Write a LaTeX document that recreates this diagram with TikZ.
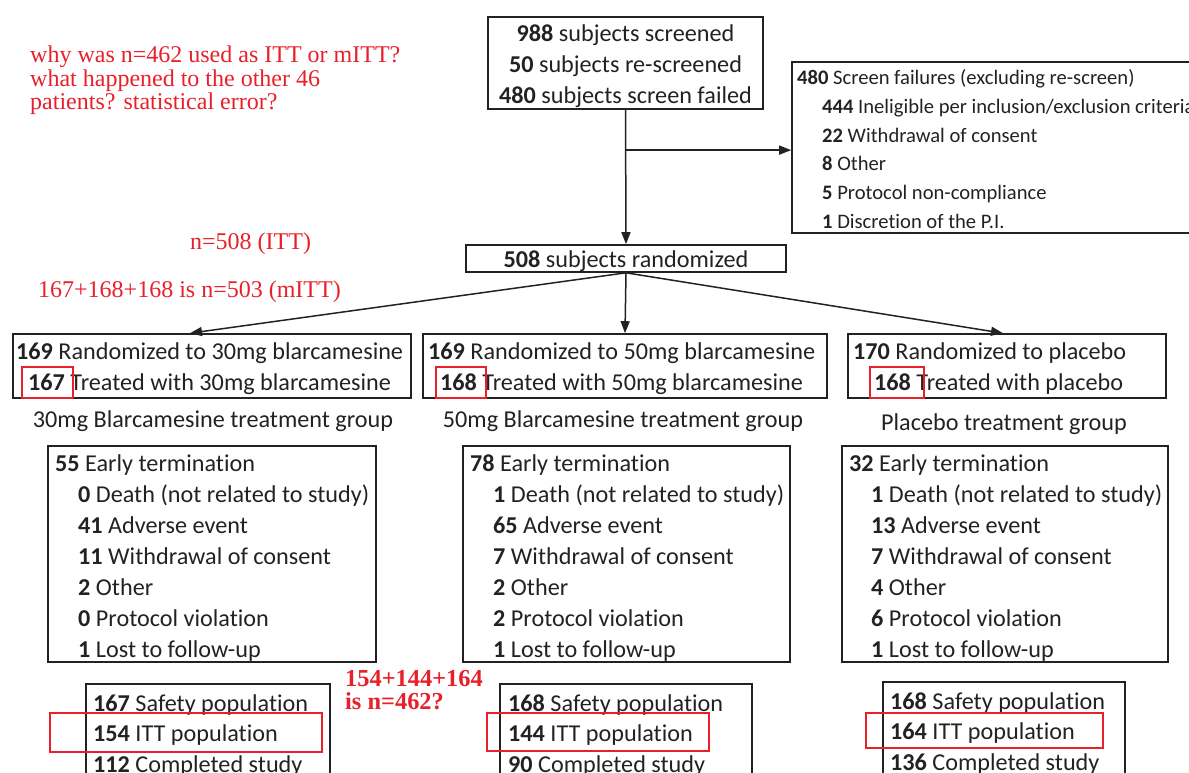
\documentclass[tikz,border=0pt]{standalone}
\usepackage{fontspec}
\setmainfont{Carlito}[Ligatures=NoCommon]
\newfontfamily\notefont{Liberation Serif}
\usetikzlibrary{arrows.meta,calc}
\definecolor{ink}{HTML}{222222}
\definecolor{note}{HTML}{E8202A}
\tikzset{
  box/.style={draw=ink, line width=1.6pt, inner sep=0pt},
  hl/.style={draw=note, line width=1.5pt, inner sep=0pt},
  txt/.style={anchor=base west, inner sep=0pt, text=ink, font=\fontsize{24.2}{28}\selectfont},
  ctxt/.style={anchor=base, inner sep=0pt, text=ink, font=\fontsize{24.2}{28}\selectfont},
  stxt/.style={anchor=base west, inner sep=0pt, text=ink, font=\fontsize{20.6}{24}\selectfont},
  ntxt/.style={anchor=base west, inner sep=0pt, text=note, font=\notefont\fontsize{24}{24}\selectfont},
  btxt/.style={anchor=base west, inner sep=0pt, text=note, font=\notefont\bfseries\fontsize{24.4}{24}\selectfont},
  arr/.style={draw=ink, line width=1.5pt, -{Triangle[length=12pt,width=9pt]}},
}
\begin{document}
\begin{tikzpicture}[x=1pt,y=-1pt]
\useasboundingbox (0,0) rectangle (1189,773);
% ---------- boxes ----------
\node[box, minimum width=275, minimum height=92] (top) at (625.5,63) {};
\node[box, minimum width=420, minimum height=171] (sf) at (1002,147.5) {};
\node[box, minimum width=320, minimum height=27] (rand) at (626,258.5) {};
\node[box, minimum width=398, minimum height=64] (g1) at (212,366) {};
\node[box, minimum width=404, minimum height=64] (g2) at (625,366) {};
\node[box, minimum width=318, minimum height=64] (g3) at (1007,366) {};
\node[box, minimum width=328, minimum height=216] (e1) at (212,554) {};
\node[box, minimum width=327, minimum height=216] (e2) at (626.5,554) {};
\node[box, minimum width=326, minimum height=216] (e3) at (1005,554) {};
\node[box, minimum width=244, minimum height=110] (b1) at (208,739) {};
\node[box, minimum width=252, minimum height=110] (b2) at (626,739) {};
\node[box, minimum width=242, minimum height=112] (b3) at (1004,738) {};
% ---------- top box text ----------
\node[ctxt] (t1) at (625.5,42) {\textbf{988} subjects screened};
\node[ctxt] (t2) at (625.5,73) {\textbf{50} subjects re-screened};
\node[ctxt] (t3) at (625.5,104) {\textbf{480} subjects screen failed};
% ---------- screen failures ----------
\node[stxt] (s1) at (797,85) {\textbf{480} Screen failures (excluding re-screen)};
\node[stxt] (s2) at (822,114) {\textbf{444} Ineligible per inclusion/exclusion criteria};
\node[stxt] (s3) at (822,143) {\textbf{22} Withdrawal of consent};
\node[stxt] (s4) at (822,171) {\textbf{8} Other};
\node[stxt] (s5) at (822,200) {\textbf{5} Protocol non-compliance};
\node[stxt] (s6) at (822,228) {\textbf{1} Discretion of the P.I.};
% ---------- randomized ----------
\node[ctxt] (r1) at (626,267) {\textbf{508} subjects randomized};
% ---------- group boxes ----------
\node[txt] (g1a) at (16,359) {\textbf{169} Randomized to 30mg blarcamesine};
\node[txt] (g1b) at (28,390) {\textbf{167} Treated with 30mg blarcamesine};
\node[txt] (g2a) at (428,359) {\textbf{169} Randomized to 50mg blarcamesine};
\node[txt] (g2b) at (440,390) {\textbf{168} Treated with 50mg blarcamesine};
\node[txt] (g3a) at (853,359) {\textbf{170} Randomized to placebo};
\node[txt] (g3b) at (874,390) {\textbf{168} Treated with placebo};
\node[hl, minimum width=51, minimum height=31] (h1) at (47.5,382.5) {};
\node[hl, minimum width=50, minimum height=31] (h2) at (461,382.5) {};
\node[hl, minimum width=54, minimum height=31] (h3) at (897,382.5) {};
% ---------- group labels ----------
\node[ctxt] (l1) at (213,427) {30mg Blarcamesine treatment group};
\node[ctxt] (l2) at (623,427) {50mg Blarcamesine treatment group};
\node[ctxt] (l3) at (1004,430) {Placebo treatment group};
% ---------- early termination ----------
\node[txt] (e1a) at (55,471) {\textbf{55} Early termination};
\node[txt] (e1b) at (78,502) {\textbf{0} Death (not related to study)};
\node[txt] (e1c) at (78,533) {\textbf{41} Adverse event};
\node[txt] (e1d) at (78,564) {\textbf{11} Withdrawal of consent};
\node[txt] (e1e) at (78,595) {\textbf{2} Other};
\node[txt] (e1f) at (78,626) {\textbf{0} Protocol violation};
\node[txt] (e1g) at (78,657) {\textbf{1} Lost to follow-up};
\node[txt] (e2a) at (470,471) {\textbf{78} Early termination};
\node[txt] (e2b) at (493,502) {\textbf{1} Death (not related to study)};
\node[txt] (e2c) at (493,533) {\textbf{65} Adverse event};
\node[txt] (e2d) at (493,564) {\textbf{7} Withdrawal of consent};
\node[txt] (e2e) at (493,595) {\textbf{2} Other};
\node[txt] (e2f) at (493,626) {\textbf{2} Protocol violation};
\node[txt] (e2g) at (493,657) {\textbf{1} Lost to follow-up};
\node[txt] (e3a) at (849,471) {\textbf{32} Early termination};
\node[txt] (e3b) at (871,502) {\textbf{1} Death (not related to study)};
\node[txt] (e3c) at (871,533) {\textbf{13} Adverse event};
\node[txt] (e3d) at (871,564) {\textbf{7} Withdrawal of consent};
\node[txt] (e3e) at (871,595) {\textbf{4} Other};
\node[txt] (e3f) at (871,626) {\textbf{6} Protocol violation};
\node[txt] (e3g) at (871,657) {\textbf{1} Lost to follow-up};
% ---------- bottom ----------
\node[txt] (b1a) at (93,711) {\textbf{167} Safety population};
\node[txt] (b1b) at (93,741) {\textbf{154} ITT population};
\node[txt] (b1c) at (93,772) {\textbf{112} Completed study};
\node[txt] (b2a) at (508,711) {\textbf{168} Safety population};
\node[txt] (b2b) at (508,741) {\textbf{144} ITT population};
\node[txt] (b2c) at (508,772) {\textbf{90} Completed study};
\node[txt] (b3a) at (890,709) {\textbf{168} Safety population};
\node[txt] (b3b) at (890,739) {\textbf{164} ITT population};
\node[txt] (b3c) at (890,770) {\textbf{136} Completed study};
\node[hl, minimum width=272, minimum height=39] (h4) at (186,732.5) {};
\node[hl, minimum width=222, minimum height=38] (h5) at (598,732) {};
\node[hl, minimum width=237, minimum height=35] (h6) at (984.5,730.5) {};
% ---------- notes ----------
\node[ntxt] (n1) at (30,63) {why was n=462 used as ITT or mITT?};
\node[ntxt] (n2) at (30,87) {what happened to the other 46};
\node[ntxt] (n3) at (30,110) {patients? statistical error?};
\node[ntxt] (n4) at (190,249) {n=508 (ITT)};
\node[ntxt] (n5) at (38,297) {167+168+168 is n=503 (mITT)};
\node[btxt] (n6) at (345,686) {154+144+164};
\node[btxt] (n7) at (345,709) {is n=462?};
% ---------- connectors ----------
\coordinate (br) at ($(top.south)!0.3!(rand.north)$);
\draw[arr] (top.south) -- (rand.north);
\draw[arr] (br) -- (br -| sf.west);
\coordinate (g1in) at ($(g1.north)+(-22,0)$);
\coordinate (g3in) at ($(g3.north)+(-4,0)$);
\draw[arr] (rand.south) -- (g1in);
\draw[arr] (rand.south) -- (g2.north);
\draw[arr] (rand.south) -- (g3in);
\end{tikzpicture}
\end{document}
